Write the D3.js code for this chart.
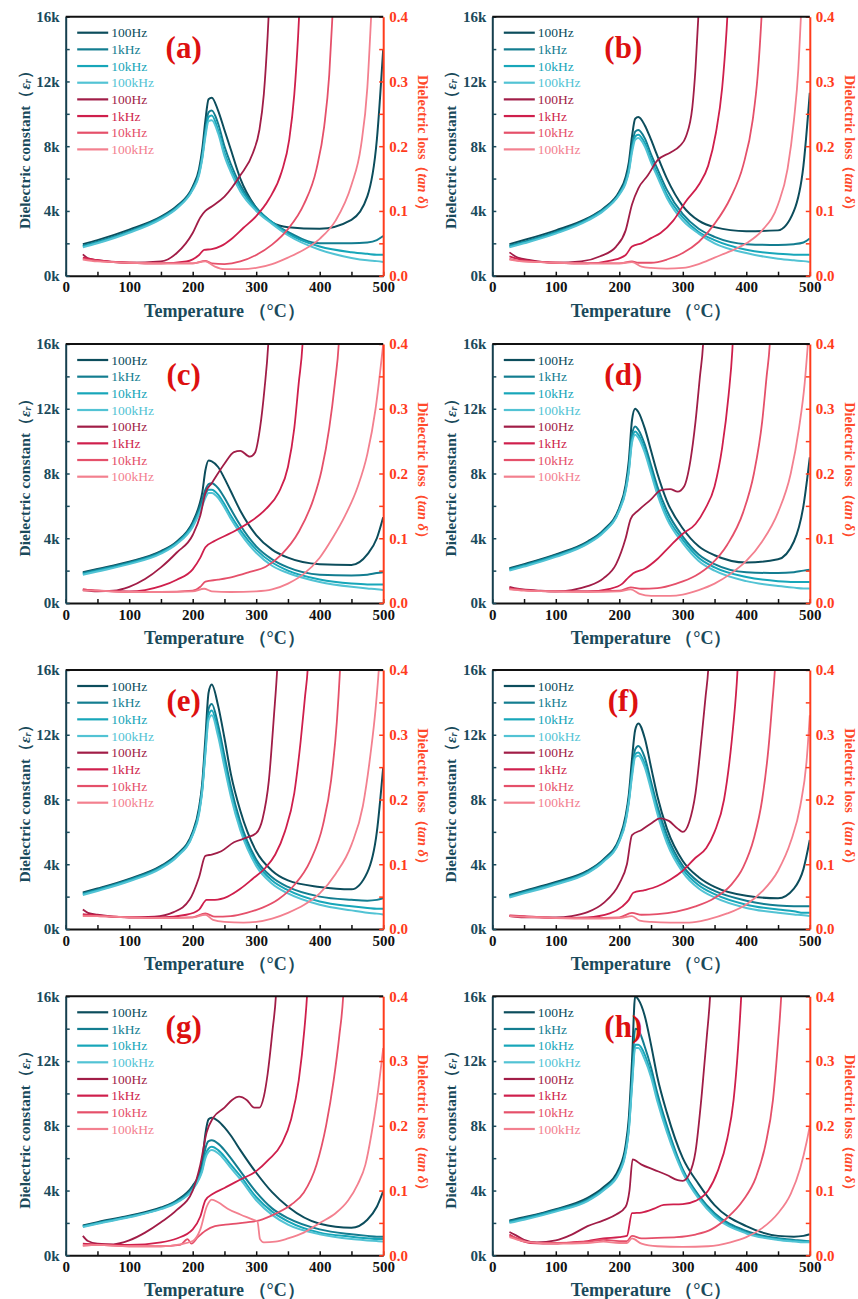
<!DOCTYPE html>
<html>
<head>
<meta charset="utf-8">
<script src="https://cdn.jsdelivr.net/npm/d3@7"></script>
<style>
  body { margin: 0; background: #fff; }
  svg { display: block; font-family: "Liberation Serif", "Times New Roman", serif; }
</style>
</head>
<body>
<svg id="chart" width="858" height="1299"></svg>
<script>
// temperature grid for the dielectric constant curves (°C)
const temps = [27, 50, 100, 150, 175, 200, 210, 215, 220, 225, 230, 240, 250, 260, 275, 300, 325, 350, 400, 450, 475, 490, 500];
const freqs = ["100Hz", "1kHz", "10kHz", "100kHz"];
const panelLabels = ["(a)", "(b)", "(c)", "(d)", "(e)", "(f)", "(g)", "(h)"];
const tempTicks = [0, 100, 200, 300, 400, 500];
const epsTicks = [0, 4, 8, 12, 16];
const lossTicks = [0, 0.1, 0.2, 0.3, 0.4];

// dielectric constant (k) : 100Hz, 1kHz, 10kHz, 100kHz
const epsA = [
  [1.95, 2.2, 2.85, 3.65, 4.3, 5.5, 6.6, 7.8, 9.6, 10.9, 11.0, 10.2, 9.0, 7.8, 6.0, 4.2, 3.3, 3.0, 2.9, 3.45, 4.9, 8.4, 14.0],
  [1.85, 2.1, 2.75, 3.6, 4.25, 5.4, 6.4, 7.5, 9.0, 10.1, 10.2, 9.4, 8.0, 6.9, 5.6, 4.2, 3.3, 2.7, 2.0, 2.0, 2.05, 2.2, 2.45],
  [1.8, 2.05, 2.7, 3.55, 4.2, 5.35, 6.3, 7.3, 8.8, 9.8, 9.9, 9.0, 7.6, 6.6, 5.4, 4.1, 3.3, 2.6, 1.8, 1.45, 1.35, 1.3, 1.3],
  [1.75, 2.0, 2.65, 3.5, 4.15, 5.3, 6.2, 7.2, 8.6, 9.55, 9.6, 8.8, 7.4, 6.4, 5.2, 4.0, 3.2, 2.5, 1.6, 1.1, 0.95, 0.9, 0.85]
];
const epsB = [
  [1.95, 2.2, 2.8, 3.55, 4.15, 5.2, 6.1, 7.0, 8.6, 9.7, 9.8, 9.3, 8.4, 7.4, 6.0, 4.3, 3.4, 3.0, 2.75, 2.8, 4.0, 6.8, 11.3],
  [1.85, 2.1, 2.7, 3.5, 4.1, 5.1, 5.9, 6.7, 8.0, 8.9, 9.0, 8.5, 7.5, 6.6, 5.3, 3.8, 2.9, 2.4, 1.95, 1.9, 1.95, 2.05, 2.3],
  [1.8, 2.05, 2.65, 3.45, 4.05, 5.05, 5.8, 6.5, 7.8, 8.6, 8.7, 8.2, 7.2, 6.3, 5.0, 3.6, 2.7, 2.2, 1.6, 1.35, 1.3, 1.3, 1.3],
  [1.75, 2.0, 2.6, 3.4, 4.0, 5.0, 5.7, 6.4, 7.6, 8.4, 8.5, 8.0, 7.0, 6.1, 4.8, 3.4, 2.6, 2.0, 1.4, 1.05, 0.95, 0.9, 0.85]
];
const epsC = [
  [1.9, 2.1, 2.55, 3.2, 3.8, 5.0, 6.0, 6.8, 8.2, 8.8, 8.75, 8.4, 7.7, 6.9, 5.7, 4.2, 3.3, 2.8, 2.4, 2.35, 3.0, 4.0, 5.3],
  [1.85, 2.05, 2.5, 3.15, 3.75, 4.9, 5.8, 6.4, 7.0, 7.35, 7.4, 7.1, 6.5, 5.8, 4.8, 3.5, 2.7, 2.2, 1.75, 1.7, 1.75, 1.85, 1.9],
  [1.8, 2.0, 2.45, 3.1, 3.7, 4.8, 5.6, 6.1, 6.7, 7.0, 7.0, 6.7, 6.1, 5.4, 4.5, 3.3, 2.5, 2.0, 1.45, 1.2, 1.15, 1.15, 1.15],
  [1.75, 1.95, 2.4, 3.05, 3.65, 4.7, 5.5, 6.0, 6.5, 6.8, 6.8, 6.5, 5.9, 5.2, 4.3, 3.1, 2.3, 1.85, 1.3, 1.0, 0.9, 0.85, 0.8]
];
const epsD = [
  [2.15, 2.4, 3.0, 3.8, 4.5, 5.9, 7.3, 8.8, 11.3, 12.0, 11.8, 10.8, 9.4, 8.0, 6.3, 4.6, 3.5, 2.95, 2.5, 2.7, 3.8, 6.0, 9.0],
  [2.1, 2.35, 2.95, 3.75, 4.45, 5.8, 7.1, 8.4, 10.4, 10.9, 10.7, 9.8, 8.5, 7.2, 5.7, 4.1, 3.0, 2.4, 1.9, 1.85, 1.9, 2.0, 2.05],
  [2.05, 2.3, 2.9, 3.7, 4.4, 5.75, 7.0, 8.2, 10.1, 10.6, 10.4, 9.5, 8.2, 6.9, 5.4, 3.9, 2.8, 2.2, 1.6, 1.35, 1.3, 1.3, 1.3],
  [2.0, 2.25, 2.85, 3.65, 4.35, 5.7, 6.9, 8.1, 9.9, 10.4, 10.2, 9.3, 8.0, 6.7, 5.2, 3.7, 2.6, 2.0, 1.35, 1.05, 0.95, 0.9, 0.9]
];
const epsE = [
  [2.25, 2.5, 3.1, 3.9, 4.6, 6.0, 7.5, 9.0, 11.8, 14.6, 15.1, 13.8, 11.8, 9.6, 7.3, 4.8, 3.6, 3.0, 2.6, 2.45, 3.5, 6.0, 10.0],
  [2.2, 2.45, 3.05, 3.85, 4.55, 5.9, 7.3, 8.7, 11.2, 13.6, 13.9, 12.6, 10.7, 8.8, 6.6, 4.3, 3.2, 2.6, 2.0, 1.8, 1.75, 1.8, 1.9],
  [2.15, 2.4, 3.0, 3.8, 4.5, 5.85, 7.2, 8.6, 11.0, 13.2, 13.5, 12.2, 10.3, 8.4, 6.3, 4.1, 3.0, 2.4, 1.7, 1.4, 1.3, 1.25, 1.25],
  [2.1, 2.35, 2.95, 3.75, 4.45, 5.8, 7.1, 8.5, 10.8, 12.9, 13.2, 11.9, 10.0, 8.2, 6.1, 3.9, 2.8, 2.2, 1.5, 1.15, 1.0, 0.95, 0.9]
];
const epsF = [
  [2.1, 2.35, 2.9, 3.6, 4.3, 5.6, 7.0, 8.3, 10.5, 12.3, 12.7, 11.8, 10.0, 8.2, 6.2, 4.2, 3.2, 2.6, 2.05, 1.9, 2.5, 3.7, 5.5],
  [2.05, 2.3, 2.85, 3.55, 4.25, 5.5, 6.8, 8.0, 9.8, 11.1, 11.3, 10.6, 9.1, 7.6, 5.8, 3.9, 2.9, 2.35, 1.75, 1.45, 1.4, 1.4, 1.4],
  [2.0, 2.25, 2.8, 3.5, 4.2, 5.45, 6.7, 7.9, 9.6, 10.8, 10.9, 10.2, 8.8, 7.3, 5.5, 3.7, 2.7, 2.15, 1.5, 1.2, 1.1, 1.0, 1.0],
  [1.95, 2.2, 2.75, 3.45, 4.15, 5.4, 6.6, 7.8, 9.4, 10.6, 10.7, 10.0, 8.6, 7.1, 5.3, 3.5, 2.5, 1.95, 1.3, 1.0, 0.9, 0.85, 0.8]
];
const epsG = [
  [1.85, 2.05, 2.45, 2.95, 3.4, 4.3, 5.0, 5.8, 7.5, 8.4, 8.5, 8.3, 7.9, 7.4, 6.5, 5.1, 3.9, 3.0, 1.95, 1.7, 2.2, 3.0, 3.95],
  [1.8, 2.0, 2.4, 2.9, 3.35, 4.2, 4.9, 5.5, 6.6, 7.05, 7.1, 6.9, 6.5, 6.0, 5.2, 3.9, 2.9, 2.3, 1.6, 1.3, 1.2, 1.15, 1.15],
  [1.78, 1.98, 2.38, 2.88, 3.3, 4.1, 4.8, 5.3, 6.2, 6.6, 6.7, 6.5, 6.1, 5.6, 4.9, 3.6, 2.7, 2.1, 1.4, 1.15, 1.05, 1.0, 1.0],
  [1.75, 1.95, 2.35, 2.85, 3.25, 4.05, 4.7, 5.2, 6.0, 6.4, 6.5, 6.3, 5.9, 5.4, 4.7, 3.4, 2.5, 1.9, 1.3, 1.0, 0.92, 0.88, 0.85]
];
const epsH = [
  [2.15, 2.35, 2.85, 3.55, 4.2, 5.4, 6.8, 8.5, 12.0, 16.0, 15.8, 14.8, 13.0, 11.0, 8.8, 6.0, 4.4, 3.1, 1.8, 1.2, 1.15, 1.2, 1.3],
  [2.1, 2.3, 2.8, 3.45, 4.1, 5.2, 6.5, 8.0, 11.0, 14.0, 13.9, 12.9, 11.6, 10.0, 8.0, 5.3, 3.7, 2.6, 1.5, 1.05, 0.95, 0.9, 0.85],
  [2.05, 2.25, 2.75, 3.4, 4.05, 5.15, 6.4, 7.8, 10.6, 13.0, 13.0, 12.4, 11.2, 9.7, 7.8, 5.2, 3.6, 2.5, 1.4, 1.0, 0.9, 0.85, 0.85],
  [2.0, 2.2, 2.7, 3.35, 4.0, 5.1, 6.3, 7.7, 10.4, 12.8, 12.8, 12.1, 11.0, 9.5, 7.6, 5.1, 3.5, 2.4, 1.35, 0.95, 0.85, 0.8, 0.8]
];

// dielectric loss (tan δ) as [T, value] : 100Hz, 1kHz, 10kHz, 100kHz
const lossA = [
  [[27,0.033],[35,0.027],[50,0.024],[100,0.02],[150,0.022],[175,0.035],[200,0.066],[212,0.09],[220,0.1],[230,0.107],[250,0.122],[275,0.155],[295,0.19],[305,0.225],[312,0.28],[318,0.37],[322,0.45]],
  [[27,0.028],[50,0.024],[100,0.02],[150,0.019],[190,0.022],[210,0.032],[218,0.04],[230,0.041],[245,0.046],[260,0.056],[280,0.074],[300,0.092],[320,0.118],[340,0.16],[352,0.21],[360,0.28],[366,0.37],[370,0.45]],
  [[27,0.026],[50,0.023],[100,0.02],[150,0.019],[200,0.019],[220,0.023],[230,0.019],[250,0.018],[275,0.022],[300,0.032],[325,0.048],[350,0.072],[375,0.11],[395,0.165],[407,0.23],[415,0.31],[420,0.4],[423,0.46]],
  [[27,0.025],[50,0.022],[100,0.02],[150,0.019],[200,0.019],[220,0.022],[235,0.014],[250,0.01],[275,0.01],[300,0.012],[325,0.018],[350,0.028],[375,0.04],[400,0.057],[425,0.085],[450,0.14],[465,0.2],[475,0.29],[481,0.4],[484,0.46]]
];
const lossB = [
  [[27,0.036],[40,0.028],[60,0.024],[100,0.02],[140,0.022],[170,0.03],[195,0.045],[210,0.07],[220,0.11],[230,0.135],[245,0.155],[260,0.178],[280,0.19],[295,0.2],[305,0.215],[315,0.26],[320,0.32],[325,0.41],[328,0.47]],
  [[27,0.03],[50,0.024],[100,0.02],[150,0.019],[190,0.024],[210,0.032],[220,0.045],[235,0.05],[250,0.058],[265,0.066],[285,0.085],[305,0.115],[325,0.14],[340,0.17],[352,0.22],[362,0.29],[369,0.38],[373,0.45]],
  [[27,0.026],[50,0.022],[100,0.02],[150,0.019],[200,0.019],[220,0.022],[230,0.02],[250,0.02],[275,0.025],[300,0.035],[325,0.052],[350,0.08],[375,0.12],[395,0.17],[410,0.24],[418,0.31],[424,0.4],[427,0.46]],
  [[27,0.025],[50,0.022],[100,0.02],[150,0.019],[200,0.019],[220,0.021],[235,0.014],[250,0.012],[275,0.011],[300,0.012],[325,0.018],[350,0.028],[375,0.038],[400,0.05],[425,0.07],[450,0.11],[465,0.165],[475,0.24],[482,0.32],[486,0.4],[489,0.46]]
];
const lossC = [
  [[27,0.02],[50,0.018],[75,0.019],[100,0.025],[125,0.037],[150,0.055],[175,0.078],[200,0.105],[212,0.135],[220,0.17],[230,0.185],[250,0.215],[265,0.233],[275,0.235],[290,0.226],[298,0.232],[306,0.27],[313,0.33],[319,0.4],[322,0.46]],
  [[27,0.021],[50,0.019],[100,0.018],[125,0.02],[150,0.026],[175,0.036],[200,0.052],[212,0.07],[220,0.086],[235,0.096],[260,0.108],[290,0.125],[315,0.145],[335,0.17],[350,0.21],[360,0.27],[367,0.34],[373,0.4],[376,0.46]],
  [[27,0.021],[50,0.019],[100,0.017],[150,0.017],[200,0.019],[212,0.025],[220,0.033],[240,0.036],[262,0.04],[290,0.048],[315,0.056],[340,0.075],[367,0.11],[390,0.16],[403,0.205],[415,0.27],[424,0.34],[430,0.4],[433,0.46]],
  [[27,0.019],[50,0.019],[100,0.017],[150,0.017],[200,0.018],[218,0.022],[230,0.018],[260,0.017],[300,0.018],[325,0.021],[350,0.03],[375,0.045],[400,0.07],[420,0.1],[440,0.135],[460,0.18],[475,0.23],[488,0.3],[500,0.4]]
];
const lossD = [
  [[27,0.025],[40,0.022],[75,0.019],[100,0.018],[125,0.02],[150,0.026],[175,0.038],[195,0.06],[210,0.1],[218,0.13],[230,0.143],[250,0.16],[265,0.174],[280,0.176],[292,0.172],[302,0.18],[312,0.22],[320,0.28],[327,0.35],[332,0.4],[335,0.46]],
  [[27,0.023],[50,0.02],[100,0.018],[150,0.018],[185,0.022],[205,0.03],[215,0.04],[222,0.046],[240,0.053],[260,0.068],[280,0.088],[300,0.107],[320,0.122],[335,0.145],[350,0.18],[362,0.24],[372,0.32],[378,0.39],[381,0.45]],
  [[27,0.022],[50,0.02],[100,0.018],[150,0.018],[200,0.019],[218,0.024],[235,0.022],[260,0.023],[290,0.03],[320,0.042],[345,0.06],[370,0.09],[395,0.14],[412,0.2],[425,0.28],[432,0.35],[437,0.4],[440,0.46]],
  [[27,0.021],[50,0.019],[100,0.018],[150,0.017],[200,0.018],[218,0.021],[232,0.014],[250,0.011],[280,0.011],[300,0.013],[325,0.02],[350,0.03],[375,0.045],[400,0.065],[425,0.095],[450,0.14],[470,0.2],[483,0.27],[492,0.34],[497,0.4],[500,0.44]]
];
const lossE = [
  [[27,0.03],[35,0.025],[50,0.022],[100,0.018],[140,0.019],[170,0.026],[195,0.045],[210,0.08],[220,0.113],[230,0.115],[245,0.12],[265,0.134],[285,0.141],[300,0.148],[310,0.17],[320,0.23],[328,0.33],[333,0.4],[336,0.46]],
  [[27,0.023],[50,0.021],[100,0.018],[150,0.018],[190,0.022],[210,0.03],[222,0.045],[235,0.045],[255,0.05],[275,0.062],[295,0.078],[315,0.095],[330,0.115],[345,0.15],[360,0.21],[370,0.29],[377,0.36],[381,0.4],[384,0.46]],
  [[27,0.021],[50,0.02],[100,0.018],[150,0.017],[200,0.018],[220,0.024],[235,0.019],[260,0.02],[285,0.025],[310,0.033],[335,0.046],[360,0.068],[385,0.105],[405,0.16],[418,0.23],[427,0.32],[432,0.4],[435,0.46]],
  [[27,0.02],[50,0.02],[100,0.018],[150,0.017],[200,0.018],[220,0.022],[232,0.014],[250,0.011],[280,0.01],[300,0.011],[325,0.016],[350,0.025],[375,0.037],[400,0.055],[425,0.085],[450,0.13],[468,0.19],[480,0.27],[488,0.34],[493,0.4],[496,0.45]]
];
const lossF = [
  [[27,0.02],[50,0.018],[100,0.018],[125,0.02],[150,0.026],[175,0.04],[200,0.07],[212,0.1],[220,0.145],[235,0.153],[250,0.163],[264,0.171],[278,0.167],[292,0.155],[300,0.15],[310,0.165],[320,0.21],[330,0.3],[336,0.36],[340,0.4],[343,0.46]],
  [[27,0.021],[50,0.02],[100,0.017],[150,0.018],[185,0.024],[205,0.035],[215,0.045],[222,0.056],[240,0.06],[260,0.066],[280,0.076],[300,0.09],[320,0.11],[337,0.125],[350,0.15],[365,0.2],[377,0.29],[385,0.38],[388,0.43]],
  [[27,0.02],[50,0.019],[100,0.017],[150,0.017],[200,0.018],[220,0.025],[235,0.022],[260,0.023],[290,0.027],[320,0.035],[350,0.048],[375,0.067],[395,0.095],[412,0.14],[425,0.2],[435,0.28],[441,0.35],[445,0.4],[448,0.46]],
  [[27,0.02],[50,0.019],[100,0.017],[150,0.016],[200,0.017],[220,0.02],[232,0.013],[250,0.011],[280,0.01],[310,0.01],[340,0.015],[370,0.024],[400,0.038],[425,0.058],[450,0.09],[470,0.135],[485,0.19],[495,0.26],[500,0.33]]
];
const lossG = [
  [[27,0.03],[35,0.022],[50,0.018],[75,0.017],[100,0.023],[125,0.035],[150,0.051],[175,0.07],[200,0.1],[212,0.14],[222,0.19],[232,0.212],[250,0.228],[262,0.24],[273,0.245],[285,0.24],[297,0.228],[305,0.228],[312,0.245],[318,0.28],[326,0.35],[331,0.4],[334,0.46]],
  [[27,0.018],[50,0.017],[100,0.016],[150,0.02],[175,0.026],[200,0.04],[212,0.06],[220,0.085],[232,0.095],[250,0.104],[275,0.117],[300,0.13],[320,0.148],[340,0.172],[355,0.21],[367,0.27],[376,0.35],[380,0.4],[383,0.46]],
  [[27,0.015],[50,0.016],[100,0.014],[150,0.014],[180,0.016],[192,0.025],[198,0.018],[208,0.028],[220,0.038],[235,0.045],[260,0.048],[285,0.051],[305,0.054],[330,0.064],[355,0.078],[375,0.097],[395,0.14],[410,0.2],[422,0.27],[431,0.34],[437,0.4],[440,0.46]],
  [[27,0.015],[50,0.016],[100,0.014],[150,0.014],[180,0.017],[200,0.022],[212,0.04],[222,0.075],[230,0.086],[240,0.082],[255,0.072],[275,0.063],[295,0.055],[302,0.052],[306,0.025],[312,0.02],[330,0.021],[350,0.026],[375,0.035],[400,0.05],[425,0.065],[445,0.085],[460,0.11],[472,0.14],[482,0.19],[490,0.24],[500,0.32]]
];
const lossH = [
  [[27,0.036],[35,0.032],[50,0.024],[70,0.02],[100,0.023],[125,0.032],[150,0.045],[175,0.054],[195,0.063],[210,0.075],[216,0.1],[221,0.148],[235,0.14],[255,0.132],[275,0.124],[292,0.116],[300,0.115],[310,0.125],[320,0.16],[330,0.25],[338,0.34],[343,0.4],[346,0.46]],
  [[27,0.032],[40,0.025],[60,0.019],[100,0.018],[125,0.02],[150,0.022],[175,0.026],[200,0.028],[212,0.03],[220,0.065],[235,0.066],[255,0.072],[270,0.078],[300,0.079],[320,0.084],[340,0.1],[355,0.13],[370,0.18],[380,0.24],[387,0.32],[392,0.4],[395,0.46]],
  [[27,0.03],[40,0.026],[60,0.02],[100,0.019],[150,0.021],[175,0.024],[200,0.022],[212,0.022],[220,0.03],[235,0.026],[260,0.027],[290,0.028],[320,0.032],[345,0.04],[370,0.058],[395,0.085],[415,0.12],[430,0.17],[442,0.24],[450,0.33],[455,0.4],[458,0.46]],
  [[27,0.028],[40,0.024],[60,0.02],[100,0.018],[150,0.019],[175,0.021],[200,0.019],[212,0.019],[220,0.026],[235,0.018],[260,0.014],[300,0.013],[340,0.014],[375,0.02],[400,0.028],[425,0.042],[450,0.065],[470,0.095],[485,0.135],[495,0.175],[500,0.2]]
];

const epsPanels = [epsA, epsB, epsC, epsD, epsE, epsF, epsG, epsH];
const lossPanels = [lossA, lossB, lossC, lossD, lossE, lossF, lossG, lossH];

const epsColors = ["#0c4d5c", "#137d90", "#17a6b9", "#52c3d4"];
const lossColors = ["#a11d47", "#cf1f4c", "#e5506a", "#f3808f"];
const tealText = "#1a4a5b";
const redAxis = "#ff3c1c";

const W = 317.5, H = 259;
const colX = [65.7, 492.3];
const rowY = [16.7, 344, 670, 996.3];

const svg = d3.select("#chart");
const x = d3.scaleLinear().domain([0, 500]).range([0, W]);
const yEps = d3.scaleLinear().domain([0, 16]).range([H, 0]);
const yLoss = d3.scaleLinear().domain([0, 0.4]).range([H, 0]);

panelLabels.forEach((label, i) => {
    const col = i % 2, row = Math.floor(i / 2);
    const g = svg.append("g").attr("transform", `translate(${colX[col]},${rowY[row]})`);

    g.append("clipPath").attr("id", "clip" + i)
        .append("rect").attr("width", W).attr("height", H);

    // curves
    const plot = g.append("g").attr("clip-path", `url(#clip${i})`);
    const epsLine = d3.line()
        .x((d, j) => x(temps[j]))
        .y((d) => yEps(d))
        .curve(d3.curveMonotoneX);
    const lossLine = d3.line()
        .x((d) => x(d[0]))
        .y((d) => yLoss(d[1]))
        .curve(d3.curveMonotoneX);

    epsPanels[i].forEach((series, k) => {
        plot.append("path").attr("d", epsLine(series))
            .attr("fill", "none").attr("stroke", epsColors[k]).attr("stroke-width", 2);
    });
    lossPanels[i].forEach((series, k) => {
        plot.append("path").attr("d", lossLine(series))
            .attr("fill", "none").attr("stroke", lossColors[k]).attr("stroke-width", 1.8);
    });

    // bottom axis
    const bottom = g.append("g").attr("transform", `translate(0,${H})`);
    bottom.call(d3.axisBottom(x).tickValues(d3.range(0, 501, 50)).tickSizeInner(-4).tickSizeOuter(0).tickFormat(""));
    bottom.append("g").call(d3.axisBottom(x).tickValues(tempTicks).tickSize(0).tickPadding(6))
        .call((s) => s.select(".domain").remove());
    bottom.selectAll("line").attr("stroke", "#111").attr("stroke-width", 1.5);
    bottom.select(".domain").attr("stroke", "#111").attr("stroke-width", 2);
    bottom.selectAll("text").attr("font-size", 15).attr("font-weight", "bold").attr("fill", "#111")
        .attr("font-family", "Liberation Serif, serif");

    // left axis
    const left = g.append("g");
    left.call(d3.axisLeft(yEps).tickValues(d3.range(0, 16.1, 2)).tickSizeInner(-4).tickSizeOuter(0).tickFormat(""));
    left.append("g").call(d3.axisLeft(yEps).tickValues(epsTicks).tickSize(0).tickPadding(6).tickFormat((d) => d + "k"))
        .call((s) => s.select(".domain").remove());
    left.selectAll("line").attr("stroke", tealText).attr("stroke-width", 1.5);
    left.select(".domain").attr("stroke", "#163f4e").attr("stroke-width", 2);
    left.selectAll("text").attr("font-size", 15).attr("font-weight", "bold").attr("fill", tealText)
        .attr("font-family", "Liberation Serif, serif");

    // right axis
    const right = g.append("g").attr("transform", `translate(${W},0)`);
    right.call(d3.axisRight(yLoss).tickValues(d3.range(0, 0.401, 0.05)).tickSizeInner(-4).tickSizeOuter(0).tickFormat(""));
    right.append("g").call(d3.axisRight(yLoss).tickValues(lossTicks).tickSize(0).tickPadding(6).tickFormat(d3.format(".1f")))
        .call((s) => s.select(".domain").remove());
    right.selectAll("line").attr("stroke", redAxis).attr("stroke-width", 1.5);
    right.select(".domain").attr("stroke", redAxis).attr("stroke-width", 2);
    right.selectAll("text").attr("font-size", 15).attr("font-weight", "bold").attr("fill", redAxis)
        .attr("font-family", "Liberation Serif, serif");

    // top frame line
    g.append("line").attr("x1", 0).attr("x2", W).attr("y1", 0).attr("y2", 0)
        .attr("stroke", "#111").attr("stroke-width", 2);

    // legend
    const legendNames = freqs.concat(freqs);
    const legendColors = epsColors.concat(lossColors);
    legendNames.forEach((name, k) => {
        const ly = 16 + k * 16.67;
        g.append("line").attr("x1", 11.5).attr("x2", 42.5).attr("y1", ly).attr("y2", ly)
            .attr("stroke", legendColors[k]).attr("stroke-width", 2.2);
        g.append("text").attr("x", 45.5).attr("y", ly).attr("dy", "0.35em")
            .attr("font-size", 13.5).attr("fill", legendColors[k]).text(name);
    });

    // panel label
    g.append("text").attr("x", col === 0 ? 118 : 131).attr("y", 41)
        .attr("text-anchor", "middle").attr("font-size", 31).attr("font-weight", "bold")
        .attr("fill", "#dd1010").text(label);

    // axis titles
    g.append("text").attr("x", W / 2).attr("y", H + 41).attr("text-anchor", "middle")
        .attr("font-size", 18).attr("font-weight", "bold").attr("fill", tealText)
        .text("Temperature （°C）");

    const yt = g.append("text").attr("transform", `translate(-42,${H / 2}) rotate(-90)`)
        .attr("text-anchor", "middle").attr("dominant-baseline", "central")
        .attr("font-size", 15.5).attr("font-weight", "bold").attr("fill", tealText);
    yt.append("tspan").text("Dielectric constant（");
    yt.append("tspan").attr("font-style", "italic").text("ε");
    yt.append("tspan").attr("font-style", "italic").attr("font-size", 10).attr("dy", 3).text("r");
    yt.append("tspan").attr("dy", -3).text("）");

    const rt = g.append("text").attr("transform", `translate(${W + 40},${H / 2}) rotate(90)`)
        .attr("text-anchor", "middle").attr("dominant-baseline", "central")
        .attr("font-size", 14.3).attr("font-weight", "bold").attr("fill", "#ff4a2c");
    rt.append("tspan").text("Dielectric loss（");
    rt.append("tspan").attr("font-style", "italic").text("tan δ");
    rt.append("tspan").text("）");
});
</script>
</body>
</html>
